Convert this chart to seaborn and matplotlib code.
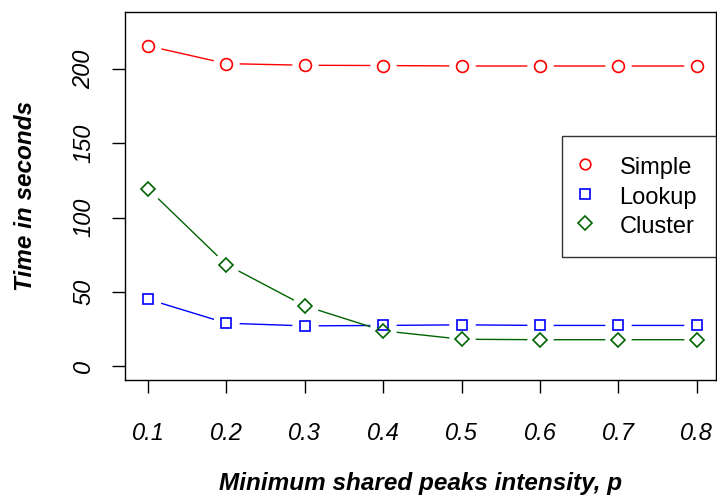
import pandas as pd
import matplotlib
matplotlib.use("Agg")
import matplotlib.pyplot as plt
import seaborn as sns
from matplotlib.lines import Line2D

# Data
p_values = [0.1, 0.2, 0.3, 0.4, 0.5, 0.6, 0.7, 0.8]
simple_time = [215.5, 203.6, 202.5, 202.3, 202.0, 202.0, 202.0, 202.0]
lookup_time = [45.2, 29.1, 27.3, 27.6, 28.0, 27.6, 27.6, 27.6]
cluster_time = [119.4, 68.5, 40.7, 24.0, 18.3, 18.0, 18.0, 18.0]

methods = ["Simple", "Lookup", "Cluster"]
colors = {"Simple": "#FF0000", "Lookup": "#0000FF", "Cluster": "#006400"}
markers = {"Simple": "o", "Lookup": "s", "Cluster": "D"}
msizes = {"Simple": 8.5, "Lookup": 7.5, "Cluster": 7.5}

df = pd.DataFrame({
    "p": p_values * 3,
    "time": simple_time + lookup_time + cluster_time,
    "method": [m for m in methods for _ in p_values],
})

sns.set_style("white")
plt.rcParams["font.family"] = ["Liberation Sans", "DejaVu Sans"]
plt.rcParams["text.color"] = "black"
plt.rcParams["axes.labelcolor"] = "black"
plt.rcParams["xtick.color"] = "black"
plt.rcParams["ytick.color"] = "black"

fig = plt.figure(figsize=(7.17, 4.98), dpi=100)
ax = fig.add_axes([0.1743, 0.2369, 0.8243, 0.739])

# lines, then white masks to give the R type="b" gaps, then hollow markers
sns.lineplot(data=df, x="p", y="time", hue="method", palette=colors,
             hue_order=methods, linewidth=1.0, legend=False, ax=ax, zorder=1)
for m in methods:
    sub = df[df["method"] == m]
    ax.plot(sub["p"], sub["time"], linestyle="none", marker="o",
            markersize=18, markerfacecolor="white", markeredgecolor="white",
            zorder=2)
for m in methods:
    sub = df[df["method"] == m]
    ax.plot(sub["p"], sub["time"], linestyle="none", marker=markers[m],
            markersize=msizes[m], markerfacecolor="none",
            markeredgecolor=colors[m], markeredgewidth=1.2, zorder=3)

ax.set_xlim(0.0705, 0.8245)
ax.set_ylim(-9.1, 238.3)
ax.set_xticks(p_values)
ax.set_xticklabels([str(v) for v in p_values])
ax.set_yticks([0, 50, 100, 150, 200])
ax.set_yticklabels(["0", "50", "100", "150", "200"], rotation=90, va="center")

ax.tick_params(axis="both", direction="out", length=9.5, width=1.0,
               color="black", labelsize=17, labelcolor="black",
               bottom=True, left=True)
ax.tick_params(axis="x", pad=21)
ax.tick_params(axis="y", pad=12)
for lab in ax.get_xticklabels() + ax.get_yticklabels():
    lab.set_fontstyle("italic")

for s in ax.spines.values():
    s.set_color("black")
    s.set_linewidth(1.0)

ax.set_xlabel("Minimum shared peaks intensity, p", fontsize=17.5,
              fontweight="bold", fontstyle="italic", labelpad=19)
ax.set_ylabel("Time in seconds", fontsize=17.5, fontweight="bold",
              fontstyle="italic", labelpad=25)

handles = [Line2D([], [], linestyle="none", marker=markers[m],
                  markersize=msizes[m] * 0.9, markerfacecolor="none",
                  markeredgecolor=colors[m], markeredgewidth=1.2)
           for m in methods]
leg = ax.legend(handles, methods, loc="upper right",
                bbox_to_anchor=(1.0, 0.664), fontsize=17, frameon=True,
                fancybox=False, borderpad=0.8, handletextpad=1.25,
                labelspacing=0.2, handleheight=1.15, borderaxespad=0,
                handlelength=0.4)
leg.get_frame().set_edgecolor("black")
leg.get_frame().set_linewidth(1.0)

fig.savefig("out.png", dpi=100)
